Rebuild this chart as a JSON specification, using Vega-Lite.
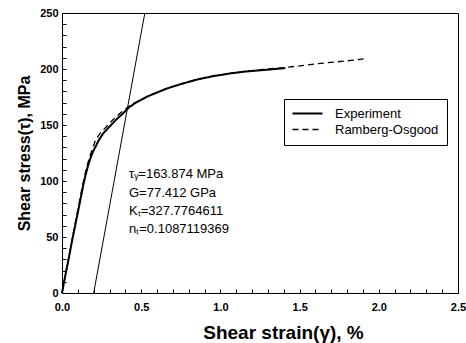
{
  "$schema": "https://vega.github.io/schema/vega-lite/v6.json",
  "width": 396,
  "height": 280,
  "autosize": "none",
  "padding": {"left": 62, "top": 13, "right": 8, "bottom": 50},
  "background": "white",
  "config": {"view": {"stroke": "black", "strokeWidth": 1}, "font": "Liberation Sans"},
  "datasets": {
    "offset": [
      {"strain": 0.2, "stress": 0},
      {"strain": 0.523, "stress": 250}
    ],
    "curves": [
      {"series": "Experiment", "strain": 0, "stress": 0},
      {"series": "Experiment", "strain": 0.02, "stress": 15},
      {"series": "Experiment", "strain": 0.04, "stress": 29},
      {"series": "Experiment", "strain": 0.06, "stress": 44},
      {"series": "Experiment", "strain": 0.08, "stress": 58},
      {"series": "Experiment", "strain": 0.1, "stress": 72},
      {"series": "Experiment", "strain": 0.12, "stress": 86},
      {"series": "Experiment", "strain": 0.135, "stress": 97},
      {"series": "Experiment", "strain": 0.15, "stress": 106},
      {"series": "Experiment", "strain": 0.165, "stress": 114},
      {"series": "Experiment", "strain": 0.18, "stress": 120.5},
      {"series": "Experiment", "strain": 0.195, "stress": 126},
      {"series": "Experiment", "strain": 0.215, "stress": 131.5},
      {"series": "Experiment", "strain": 0.23, "stress": 136},
      {"series": "Experiment", "strain": 0.26, "stress": 142.5},
      {"series": "Experiment", "strain": 0.3, "stress": 148.5},
      {"series": "Experiment", "strain": 0.34, "stress": 154.5},
      {"series": "Experiment", "strain": 0.385, "stress": 160.3},
      {"series": "Experiment", "strain": 0.42, "stress": 165.3},
      {"series": "Experiment", "strain": 0.46, "stress": 169.5},
      {"series": "Experiment", "strain": 0.5, "stress": 172.5},
      {"series": "Experiment", "strain": 0.54, "stress": 175.5},
      {"series": "Experiment", "strain": 0.6, "stress": 179},
      {"series": "Experiment", "strain": 0.66, "stress": 182.5},
      {"series": "Experiment", "strain": 0.75, "stress": 186.5},
      {"series": "Experiment", "strain": 0.85, "stress": 190.5},
      {"series": "Experiment", "strain": 0.95, "stress": 193.5},
      {"series": "Experiment", "strain": 1.06, "stress": 196},
      {"series": "Experiment", "strain": 1.15, "stress": 197.6},
      {"series": "Experiment", "strain": 1.25, "stress": 198.8},
      {"series": "Experiment", "strain": 1.33, "stress": 199.8},
      {"series": "Experiment", "strain": 1.41, "stress": 200.8},
      {"series": "Ramberg-Osgood", "strain": 0, "stress": 0},
      {"series": "Ramberg-Osgood", "strain": 0.02, "stress": 15},
      {"series": "Ramberg-Osgood", "strain": 0.04, "stress": 30},
      {"series": "Ramberg-Osgood", "strain": 0.06, "stress": 45},
      {"series": "Ramberg-Osgood", "strain": 0.08, "stress": 60},
      {"series": "Ramberg-Osgood", "strain": 0.1, "stress": 74},
      {"series": "Ramberg-Osgood", "strain": 0.12, "stress": 89},
      {"series": "Ramberg-Osgood", "strain": 0.135, "stress": 99.5},
      {"series": "Ramberg-Osgood", "strain": 0.15, "stress": 109},
      {"series": "Ramberg-Osgood", "strain": 0.165, "stress": 117},
      {"series": "Ramberg-Osgood", "strain": 0.18, "stress": 124},
      {"series": "Ramberg-Osgood", "strain": 0.198, "stress": 130.6},
      {"series": "Ramberg-Osgood", "strain": 0.21, "stress": 136},
      {"series": "Ramberg-Osgood", "strain": 0.24, "stress": 142.5},
      {"series": "Ramberg-Osgood", "strain": 0.28, "stress": 148.5},
      {"series": "Ramberg-Osgood", "strain": 0.32, "stress": 154.5},
      {"series": "Ramberg-Osgood", "strain": 0.366, "stress": 160.4},
      {"series": "Ramberg-Osgood", "strain": 0.42, "stress": 166.3},
      {"series": "Ramberg-Osgood", "strain": 0.46, "stress": 169.8},
      {"series": "Ramberg-Osgood", "strain": 0.5, "stress": 172.7},
      {"series": "Ramberg-Osgood", "strain": 0.54, "stress": 175.6},
      {"series": "Ramberg-Osgood", "strain": 0.6, "stress": 179.2},
      {"series": "Ramberg-Osgood", "strain": 0.66, "stress": 182.6},
      {"series": "Ramberg-Osgood", "strain": 0.75, "stress": 186.7},
      {"series": "Ramberg-Osgood", "strain": 0.85, "stress": 190.6},
      {"series": "Ramberg-Osgood", "strain": 0.95, "stress": 193.6},
      {"series": "Ramberg-Osgood", "strain": 1.06, "stress": 196},
      {"series": "Ramberg-Osgood", "strain": 1.15, "stress": 197.8},
      {"series": "Ramberg-Osgood", "strain": 1.25, "stress": 199.4},
      {"series": "Ramberg-Osgood", "strain": 1.41, "stress": 201.3},
      {"series": "Ramberg-Osgood", "strain": 1.6, "stress": 204.5},
      {"series": "Ramberg-Osgood", "strain": 1.8, "stress": 207.3},
      {"series": "Ramberg-Osgood", "strain": 1.93, "stress": 209.5}
    ],
    "notes": [
      {"strain": 0.423, "stress": 106.3, "label": "τᵧ=163.874 MPa"},
      {"strain": 0.423, "stress": 89.6, "label": "G=77.412 GPa"},
      {"strain": 0.423, "stress": 73.5, "label": "Kₜ=327.7764611"},
      {"strain": 0.423, "stress": 56.9, "label": "nₜ=0.1087119369"}
    ]
  },
  "encoding": {
    "x": {
      "field": "strain", "type": "quantitative",
      "scale": {"domain": [0, 2.5], "nice": false},
      "axis": {
        "title": "Shear strain(γ), %",
        "values": [0,0.1,0.2,0.3,0.4,0.5,0.6,0.7,0.8,0.9,1,1.1,1.2,1.3,1.4,1.5,1.6,1.7,1.8,1.9,2,2.1,2.2,2.3,2.4,2.5],
        "labelExpr": "abs(datum.value*2-round(datum.value*2))<1e-6 ? format(datum.value,'.1f') : ''",
        "domain": false, "offset": -4, "tickSize": 4, "tickWidth": 1, "tickColor": "black", "grid": false,
        "labelFontSize": 11, "labelFontWeight": "bold", "labelColor": "black",
        "labelPadding": 8, "labelFlush": false, "labelOverlap": false,
        "titleFontSize": 19, "titleFontWeight": "bold", "titleColor": "black",
        "titlePadding": 11, "titleX": 221
      }
    },
    "y": {
      "field": "stress", "type": "quantitative",
      "scale": {"domain": [0, 250], "nice": false},
      "axis": {
        "title": "Shear stress(τ), MPa",
        "values": [0,10,20,30,40,50,60,70,80,90,100,110,120,130,140,150,160,170,180,190,200,210,220,230,240,250],
        "labelExpr": "datum.value % 50 === 0 ? datum.value : ''",
        "domain": false, "offset": -4, "tickSize": 4, "tickWidth": 1, "tickColor": "black", "grid": false,
        "labelFontSize": 11, "labelFontWeight": "bold", "labelColor": "black",
        "labelPadding": 4, "labelFlush": false, "labelOverlap": false,
        "titleFontSize": 16, "titleFontWeight": "bold", "titleColor": "black",
        "titlePadding": 7
      }
    }
  },
  "layer": [
    {
      "data": {"name": "offset"},
      "mark": {"type": "line", "color": "black", "strokeWidth": 1}
    },
    {
      "data": {"name": "curves"},
      "mark": {"type": "line", "color": "black"},
      "encoding": {
        "strokeDash": {
          "field": "series", "type": "nominal",
          "scale": {"domain": ["Experiment", "Ramberg-Osgood"], "range": [[1, 0], [6, 4]]},
          "legend": {
            "title": null, "orient": "none", "legendX": 222, "legendY": 86,
            "strokeColor": "black", "fillColor": "white", "padding": 8,
            "symbolType": "M-3,0H3", "symbolSize": 100, "symbolStrokeColor": "black",
            "symbolOffset": 9,
            "labelFontSize": 13, "labelColor": "black", "labelOffset": 21, "rowPadding": 2
          }
        },
        "strokeWidth": {
          "field": "series", "type": "nominal",
          "scale": {"domain": ["Experiment", "Ramberg-Osgood"], "range": [2, 1.3]},
          "legend": {
            "title": null, "orient": "none", "legendX": 222, "legendY": 86,
            "strokeColor": "black", "fillColor": "white", "padding": 8,
            "symbolType": "M-3,0H3", "symbolSize": 100, "symbolStrokeColor": "black",
            "symbolOffset": 9,
            "labelFontSize": 13, "labelColor": "black", "labelOffset": 21, "rowPadding": 2
          }
        }
      }
    },
    {
      "data": {"name": "notes"},
      "mark": {"type": "text", "align": "left", "baseline": "middle", "fontSize": 13, "color": "black"},
      "encoding": {"text": {"field": "label"}}
    }
  ]
}
